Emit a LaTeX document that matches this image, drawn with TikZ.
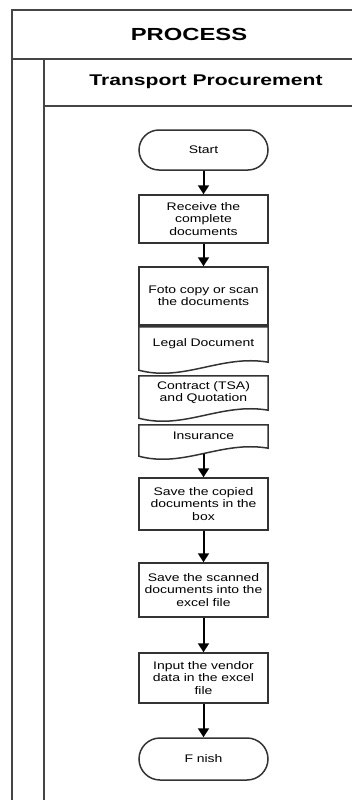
\documentclass[tikz,border=0pt]{standalone}
\usepackage{fontspec}
\setmainfont{Liberation Sans}[FakeStretch=1.27]
\newfontfamily\headfont{Liberation Sans}[FakeStretch=1.36]
\usepackage{tikz}
\usetikzlibrary{arrows.meta}
\definecolor{PLine}{HTML}{333333}
\definecolor{PFrame}{HTML}{454545}

\begin{document}
\begin{tikzpicture}[
  x=1pt,y=1pt,
  every node/.style={font=\fontsize{11}{12.5}\selectfont},
  procbox/.style={draw=PLine,line width=1.5pt,minimum width=129pt,
    text width=127pt,inner sep=1pt,align=center},
  terminal/.style={procbox,rounded corners=20pt},
  docnode/.style={minimum width=129pt,text width=127pt,inner sep=1pt,align=center},
  docline/.style={draw=PLine,line width=1.5pt},
  frame/.style={draw=PFrame,line width=2pt},
  head/.style={font={\headfont\fontsize{17.5}{20}\selectfont\bfseries}},
  a/.style={-{Triangle[length=9pt,width=11pt]},line width=2pt,color=black}
]
  \useasboundingbox (0,0) rectangle (352,-800);

  % swimlane frame
  \draw[frame] (352,-10) -- (12,-10) -- (12,-800);
  \draw[frame] (12,-59) -- (352,-59);
  \draw[frame] (44,-59) -- (44,-800);
  \draw[frame] (44,-106) -- (352,-106);
  \node[head] (proc) at (189,-34) {PROCESS};
  \node[head,font={\headfont\fontsize{15.5}{18}\selectfont\bfseries}] (lane) at (206,-82)
    {Transport Procurement};

  % flow
  \node[terminal,minimum height=40pt] (start) at (203.5,-150) {Start};
  \node[procbox,minimum height=48pt] (recv) at (203.5,-219) {Receive the\\complete\\documents};
  \node[procbox,minimum height=58pt] (foto) at (203.5,-296) {Foto copy or scan\\the documents};
  \node[docnode,minimum height=34pt] (legal) at (203.5,-344) {Legal Document};
  \node[docnode,minimum height=33pt] (contract) at (203.5,-392.5) {Contract (TSA)\\and Quotation};
  \node[docnode,minimum height=22pt] (insur) at (203.5,-436) {Insurance};
  \node[procbox,minimum height=52pt] (savecopy) at (203.5,-504)
    {Save the copied\\documents in the\\box};
  \node[procbox,minimum height=54pt] (savescan) at (203.5,-590)
    {Save the scanned\\documents into the\\excel file};
  \node[procbox,minimum height=50pt] (input) at (203.5,-678)
    {Input the vendor\\data in the excel\\file};
  \node[terminal,minimum height=42pt,rounded corners=21pt] (finish) at (203.5,-759) {F nish};

  % document outlines with wavy bottom
  \foreach \d in {legal,contract,insur}
    {\draw[docline] ([yshift=-9pt]\d.south west) -- (\d.north west) -- (\d.north east)
      -- ([yshift=-1pt]\d.south east)
      .. controls ([xshift=-47pt,yshift=7pt]\d.south east)
      and ([xshift=45pt,yshift=-21pt]\d.south west) .. ([yshift=-9pt]\d.south west) -- cycle;}
  \coordinate (insurfoot) at ([yshift=-6.5pt]insur.south);

  \foreach \p/\q in {start/recv,recv/foto,insurfoot/savecopy,savecopy/savescan,savescan/input,input/finish}
    {\draw[a] (\p) -- (\q);}
\end{tikzpicture}
\end{document}
